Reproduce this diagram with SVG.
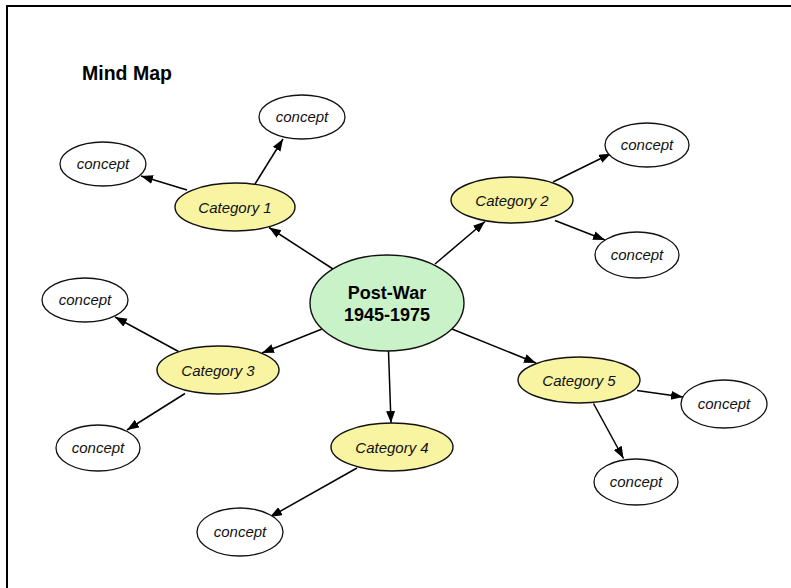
<svg xmlns="http://www.w3.org/2000/svg" width="791" height="588" viewBox="0 0 791 588">
<defs>
<marker id="ah" markerUnits="userSpaceOnUse" markerWidth="13" markerHeight="10" refX="12" refY="4.5" orient="auto">
<path d="M0,0 L12,4.5 L0,9 z" fill="#000"/>
</marker>
</defs>
<style>
.frame{stroke:#000;stroke-width:2;fill:none}
.center{fill:#c9f2c9;stroke:#111;stroke-width:1.4}
.cat{fill:#f8f4a2;stroke:#111;stroke-width:1.4}
.con{fill:#fff;stroke:#111;stroke-width:1.3}
.edge{stroke:#000;stroke-width:1.5;fill:none;marker-end:url(#ah)}
.title{font-family:"Liberation Sans",Arial,sans-serif;font-weight:bold;font-size:19.5px;fill:#000}
.ct{font-family:"Liberation Sans",Arial,sans-serif;font-weight:bold;font-size:18px;fill:#000;text-anchor:middle}
.catt{font-family:"Liberation Sans",Arial,sans-serif;font-style:italic;font-size:15px;fill:#111;text-anchor:middle}
.cont{font-family:"Liberation Sans",Arial,sans-serif;font-style:italic;font-size:15px;fill:#111;text-anchor:middle}
</style>
<rect width="791" height="588" fill="#fff"/>
<path class="frame" d="M7,588 L7,6 L791,6"/>
<text class="title" x="82" y="80">Mind Map</text>

<g id="connectors">
<line class="edge" x1="333" y1="269" x2="269" y2="227.5"/>
<line class="edge" x1="435" y1="264" x2="485" y2="221.5"/>
<line class="edge" x1="322" y1="329" x2="262" y2="353"/>
<line class="edge" x1="388.5" y1="351" x2="391" y2="423"/>
<line class="edge" x1="452" y1="329" x2="536" y2="363"/>
<line class="edge" x1="255" y1="184" x2="283" y2="139"/>
<line class="edge" x1="187" y1="190" x2="141" y2="176"/>
<line class="edge" x1="553" y1="182" x2="611" y2="153.5"/>
<line class="edge" x1="555" y1="220.5" x2="605" y2="240"/>
<line class="edge" x1="178.5" y1="351.5" x2="115" y2="317"/>
<line class="edge" x1="185" y1="393.5" x2="127" y2="430"/>
<line class="edge" x1="357" y1="468" x2="270" y2="517"/>
<line class="edge" x1="637" y1="390.5" x2="683" y2="397"/>
<line class="edge" x1="593.5" y1="403.5" x2="623.5" y2="458.5"/>
</g>

<g id="center">
<ellipse class="center" cx="387" cy="303" rx="77" ry="48"/>
<text class="ct" x="387" y="299">Post-War</text>
<text class="ct" x="387" y="321">1945-1975</text>
</g>

<g id="cat1"><ellipse class="cat" cx="235" cy="207" rx="60" ry="24"/><text class="catt" x="235" y="212.5">Category 1</text></g>
<g id="cat2"><ellipse class="cat" cx="512" cy="200" rx="61" ry="23"/><text class="catt" x="512" y="205.5">Category 2</text></g>
<g id="cat3"><ellipse class="cat" cx="218" cy="370" rx="61" ry="24"/><text class="catt" x="218" y="375.5">Category 3</text></g>
<g id="cat4"><ellipse class="cat" cx="392" cy="447" rx="61" ry="24"/><text class="catt" x="392" y="452.5">Category 4</text></g>
<g id="cat5"><ellipse class="cat" cx="579" cy="380" rx="61" ry="23"/><text class="catt" x="579" y="385.5">Category 5</text></g>

<g id="c1a"><ellipse class="con" cx="302" cy="117" rx="43" ry="22"/><text class="cont" x="302" y="122">concept</text></g>
<g id="c1b"><ellipse class="con" cx="103" cy="164" rx="43" ry="22"/><text class="cont" x="103" y="169">concept</text></g>
<g id="c2a"><ellipse class="con" cx="647" cy="145" rx="42" ry="22"/><text class="cont" x="647" y="150">concept</text></g>
<g id="c2b"><ellipse class="con" cx="637" cy="255" rx="42" ry="23"/><text class="cont" x="637" y="260">concept</text></g>
<g id="c3a"><ellipse class="con" cx="85" cy="300" rx="43" ry="22"/><text class="cont" x="85" y="305">concept</text></g>
<g id="c3b"><ellipse class="con" cx="98" cy="448" rx="42" ry="23"/><text class="cont" x="98" y="453">concept</text></g>
<g id="c4"><ellipse class="con" cx="240" cy="532" rx="43" ry="24"/><text class="cont" x="240" y="537">concept</text></g>
<g id="c5a"><ellipse class="con" cx="724" cy="404" rx="43" ry="24"/><text class="cont" x="724" y="409">concept</text></g>
<g id="c5b"><ellipse class="con" cx="636" cy="482" rx="42" ry="23"/><text class="cont" x="636" y="487">concept</text></g>
</svg>
